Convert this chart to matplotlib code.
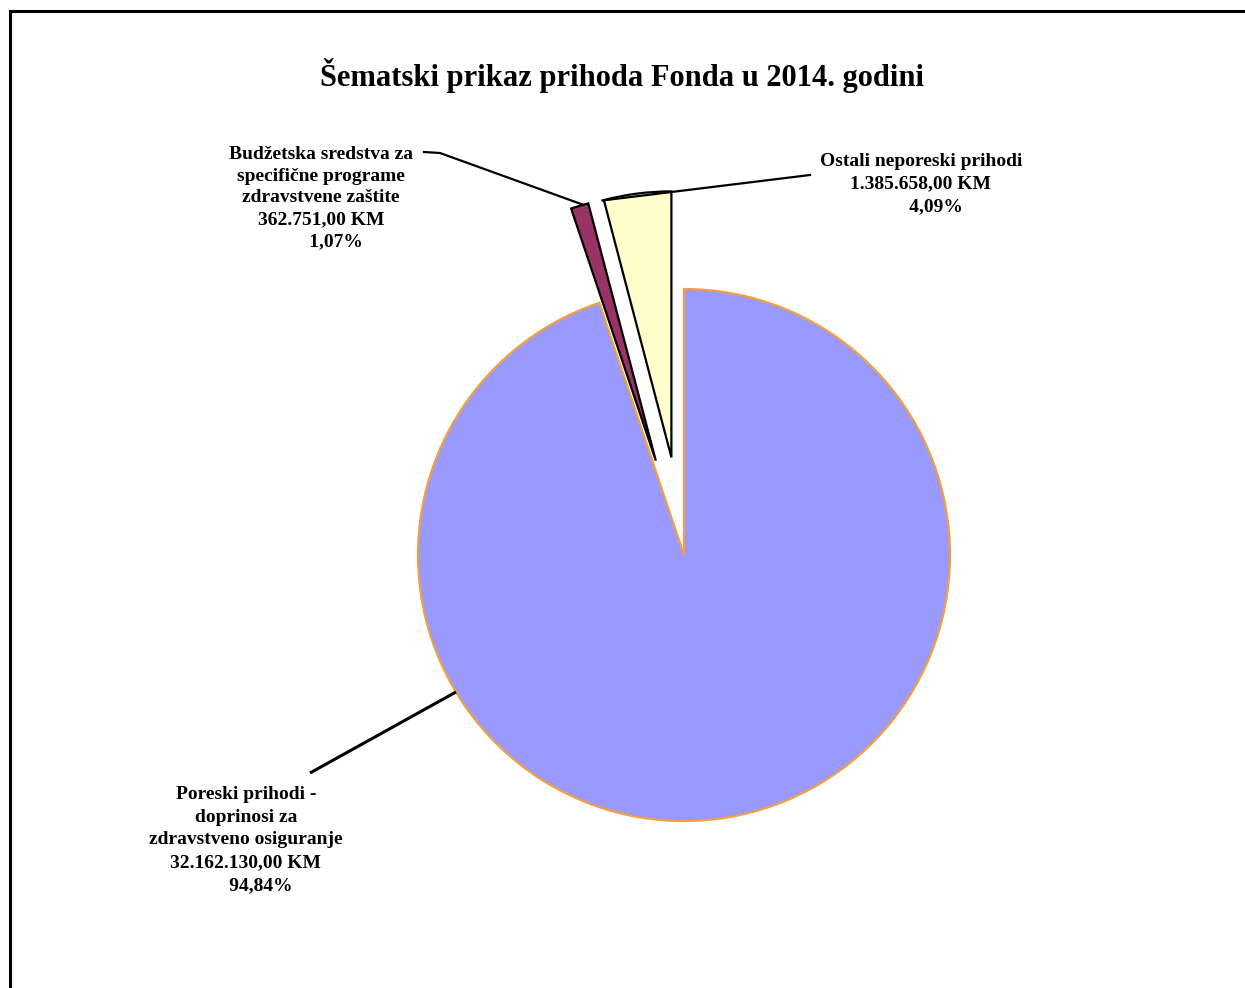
import math

import matplotlib
matplotlib.use("Agg")
import matplotlib.pyplot as plt

plt.rcParams['font.family'] = ['Liberation Serif', 'DejaVu Serif']

# podaci
naslov = "Šematski prikaz prihoda Fonda u 2014. godini"
kategorije = [
    "Poreski prihodi -\ndoprinosi za\nzdravstveno osiguranje",
    "Budžetska sredstva za\nspecifične programe\nzdravstvene zaštite",
    "Ostali neporeski prihodi",
]
iznosi = [32162130.00, 362751.00, 1385658.00]
iznosi_txt = ["32.162.130,00 KM", "362.751,00 KM", "1.385.658,00 KM"]
procenti_txt = ["94,84%", "1,07%", "4,09%"]
boje = ["#9999FF", "#993366", "#FFFFCC"]
ivice = ["#F0A040", "black", "black"]

W, H = 1245, 988
fig = plt.figure(figsize=(W / 100, H / 100), dpi=100)
ax = fig.add_axes([0, 0, 1, 1])

# pie u pikselskim koordinatama (y prema gore)
cx, cy, R = 684, H - 555, 266
explode = [0, 0.37 * R, 0.37 * R]

wedges, _ = ax.pie(iznosi, colors=boje, startangle=90, counterclock=False,
                   explode=explode, center=(cx, cy), radius=R,
                   wedgeprops=dict(linewidth=1.6), frame=True)
for w, ec in zip(wedges, ivice):
    w.set_edgecolor(ec)
ax.set_xlim(0, W)
ax.set_ylim(0, H)
ax.set_aspect("equal")
ax.axis("off")


def na_luku(w, ugao):
    x0, y0 = w.center
    a = math.radians(ugao)
    return x0 + w.r * math.cos(a), y0 + w.r * math.sin(a)


lbl = dict(fontsize=14, fontweight="bold", ha="center", va="center",
           multialignment="center", color="black")

# Poreski prihodi
t0 = kategorije[0] + "\n" + iznosi_txt[0] + "\n      " + procenti_txt[0]
ax.text(246, H - 840, t0, linespacing=1.45, **lbl)
p = na_luku(wedges[0], 211)
ax.plot([310, p[0]], [H - 773, p[1]], color="black", lw=2.2, solid_capstyle="butt")

# Budzetska sredstva
t1 = kategorije[1] + "\n" + iznosi_txt[1] + "\n      " + procenti_txt[1]
ax.text(321, H - 198, t1, linespacing=1.36, **lbl)
w1 = wedges[1]
p = na_luku(w1, (w1.theta1 + w1.theta2) / 2 - 0.8)
ax.plot([424, 440, p[0]], [H - 152, H - 153, p[1]], color="black", lw=1.6)

# Ostali neporeski prihodi
t2 = kategorije[2] + "\n" + iznosi_txt[2] + "\n      " + procenti_txt[2]
ax.text(921, H - 184, t2, linespacing=1.42, **lbl)
w2 = wedges[2]
p = na_luku(w2, w2.theta2 + 0.3)
ax.plot([p[0], 810], [p[1], H - 175], color="black", lw=1.6)

# naslov
ax.text(622, H - 76, naslov, fontsize=22, fontweight="bold",
        ha="center", va="center")

# okvir (lijevo i gore)
ax.plot([10, 10, W], [0, H - 11, H - 11], color="black", lw=2.2,
        solid_joinstyle="miter", clip_on=False)

fig.savefig("out.png", dpi=100)
